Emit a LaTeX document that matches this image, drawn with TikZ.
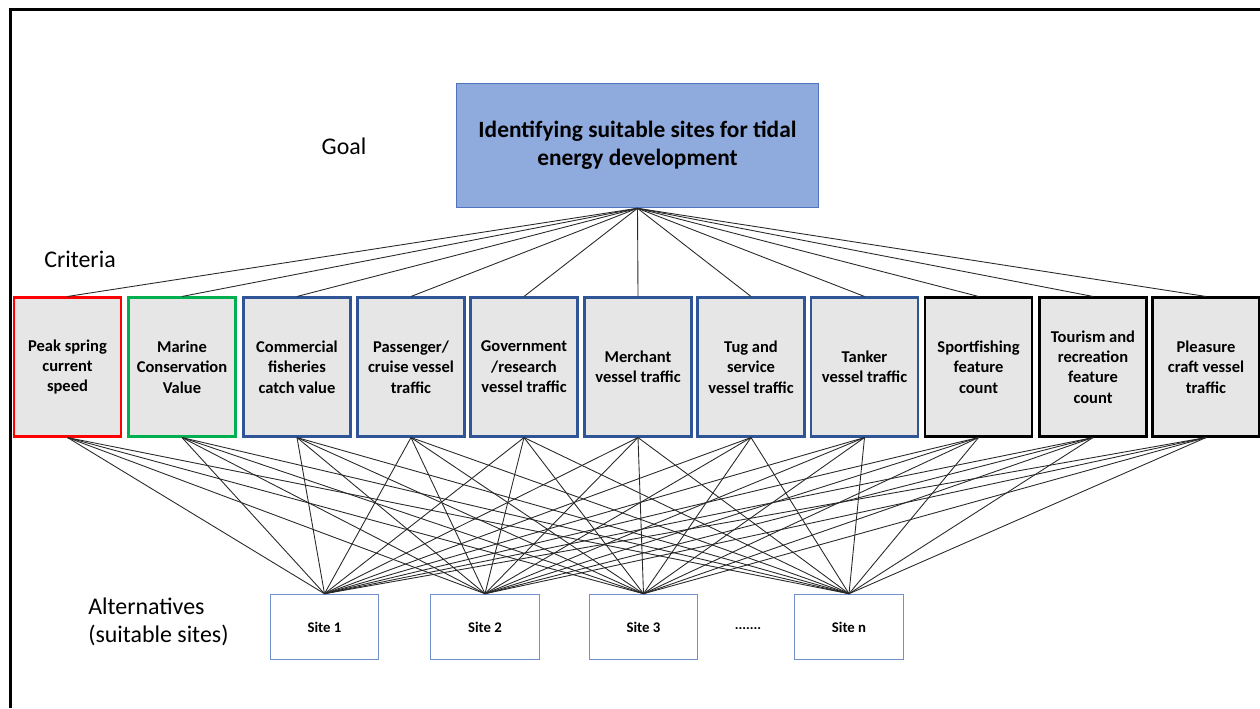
\documentclass[tikz,border=0pt]{standalone}
\usepackage{fontspec}
\setmainfont{Carlito}
\usetikzlibrary{positioning}
\definecolor{goalblue}{RGB}{143,170,220}
\definecolor{goalline}{RGB}{80,115,190}
\definecolor{critfill}{RGB}{231,230,230}
\definecolor{critred}{RGB}{255,0,0}
\definecolor{critgreen}{RGB}{0,176,80}
\definecolor{critblue}{RGB}{47,85,151}
\definecolor{siteline}{RGB}{112,144,203}
\definecolor{linkgray}{RGB}{40,40,40}

\tikzset{
  crit/.style={draw=#1, fill=critfill, line width=1.2pt, minimum width=2.14cm, minimum height=2.78cm,
    inner sep=0pt, align=center, font=\bfseries\fontsize{9.4}{11.6}\selectfont},
  site/.style={draw=siteline, line width=0.6pt, minimum width=2.17cm, minimum height=1.31cm,
    inner sep=0pt, font=\bfseries\fontsize{8.4}{9.5}\selectfont},
  level/.style={font=\fontsize{13.6}{15.9}\selectfont},
  link/.style={draw=linkgray, line width=0.5pt},
}

\begin{document}
\begin{tikzpicture}[x=0.02cm, y=-0.02cm]
  \useasboundingbox (0,0) rectangle (1260,708);
  \draw[line width=1.2pt] (10.5,708) -- (10.5,9.5) -- (1260,9.5);

  % Goal
  \node[draw=goalline, fill=goalblue, line width=0.6pt, minimum width=7.24cm, minimum height=2.49cm,
    align=center, font=\bfseries\fontsize{13.3}{15.9}\selectfont] (goal) at (637.5,145.5)
    {Identifying suitable sites for tidal\\energy development};
  \node[level] (goallbl) at (344,146) {Goal};

  % Criteria
  \node[level] (critlbl) at (80,259) {Criteria};
  \node[crit=critred]   (c1)  at (67.5,367)  {Peak spring\\current\\speed};
  \node[crit=critgreen] (c2)  at (182,367)   {Marine\\Conservation\\Value};
  \node[crit=critblue]  (c3)  at (297,367)   {Commercial\\fisheries\\catch value};
  \node[crit=critblue]  (c4)  at (411,367)   {Passenger/\\cruise vessel\\traffic};
  \node[crit=critblue]  (c5)  at (524,367)   {Government\\/research\\vessel traffic};
  \node[crit=critblue]  (c6)  at (638,367)   {Merchant\\vessel traffic};
  \node[crit=critblue]  (c7)  at (751,367)   {Tug and\\service\\vessel traffic};
  \node[crit=critblue]  (c8)  at (864.5,367) {Tanker\\vessel traffic};
  \node[crit=black]     (c9)  at (978.5,367) {Sportfishing\\feature\\count};
  \node[crit=black]     (c10) at (1093,367)  {Tourism and\\recreation\\feature\\count};
  \node[crit=black]     (c11) at (1206,367)  {Pleasure\\craft vessel\\traffic};

  % Alternatives
  \node[level, align=left, anchor=west, inner sep=0pt] (altlbl) at (88,622) {Alternatives\\(suitable sites)};
  \node[site] (s1) at (324.5,627) {Site 1};
  \node[site] (s2) at (485,627)   {Site 2};
  \node[site] (s3) at (643.5,627) {Site 3};
  \node[font=\bfseries\fontsize{8}{9}\selectfont] (dots) at (748,629) {.......};
  \node[site] (sn) at (849,627)   {Site n};

  % Links goal -> criteria -> sites
  \foreach \i in {1,...,11} {
    \draw[link] (goal.south) -- (c\i.north);
    \foreach \j in {1,2,3,n}
      \draw[link] (c\i.south) -- (s\j.north);
  }
\end{tikzpicture}
\end{document}
